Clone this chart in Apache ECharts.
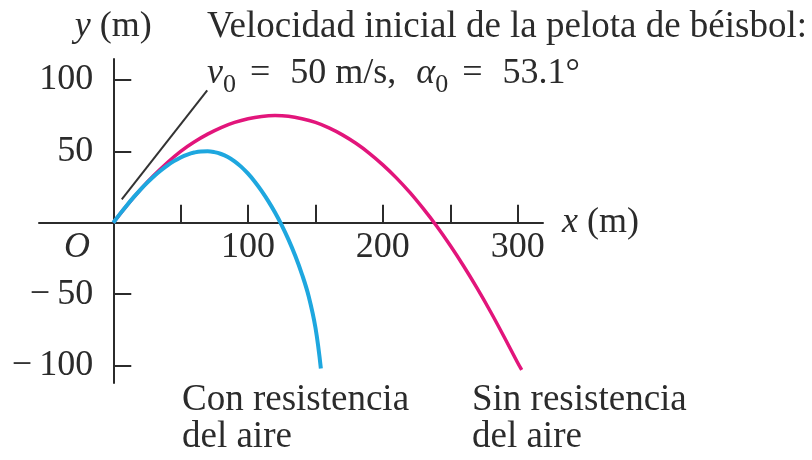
<!DOCTYPE html>
<html>
<head>
<meta charset="utf-8">
<script src="https://cdn.jsdelivr.net/npm/echarts@6/dist/echarts.min.js"></script>
<style>
  html, body { margin: 0; padding: 0; background: #fff; }
  #chart { width: 812px; height: 460px; }
</style>
</head>
<body>
<div id="chart"></div>
<script>
  // trayectoria sin resistencia del aire (m)
  var sinX = [0, 10, 20, 30, 40, 50, 60, 70, 80, 90, 100, 110, 120, 130, 140, 150, 160, 170, 180, 190, 200, 210, 220, 230, 240, 250, 260, 270, 280, 290, 300, 303];
  var sinY = [0, 12, 23, 33, 42, 50, 56.5, 62, 66.6, 70.2, 72.8, 74.4, 75, 74.5, 72.8, 70.2, 66.4, 61.5, 55.6, 48.6, 40.5, 31.4, 21.2, 9.8, -2.5, -16, -30.5, -46, -62.5, -80, -98, -103];
  // trayectoria con resistencia del aire (m)
  var conX = [0, 5, 10, 15, 20, 25, 30, 35, 40, 45, 50, 55, 60, 65, 70, 75, 80, 85, 90, 95, 100, 105, 110, 115, 120, 125, 130, 135, 140, 145, 150, 154];
  var conY = [0, 6.2, 12.1, 17.7, 23, 27.9, 32.4, 36.4, 40, 43.1, 45.7, 47.7, 49.1, 49.9, 50, 49.4, 48.1, 46, 43, 39.1, 34.3, 28.7, 22.3, 15.1, 7.1, -1.8, -11.8, -23.1, -36.1, -51.6, -73.5, -102];
  // linea de la velocidad inicial
  var velX = [6.3, 69.7];
  var velY = [16.4, 92.6];
  // marcas de los ejes
  var xTicks = [50, 100, 150, 200, 250, 300];
  var xLabels = [100, 200, 300];
  var yTicks = [-100, -50, 50, 100];

  var xMin = -55.1, xMax = 318.8;
  var yMin = -112.2, yMax = 114.6;
  var gridW = 504, gridH = 324;

  var serif = 'Liberation Serif';
  var ink = '#2b2b2b';

  function pairs(xs, ys) {
    var out = [];
    for (var i = 0; i < xs.length; i++) out.push([xs[i], ys[i]]);
    return out;
  }

  // los ejes cruzan en el origen
  var xAxisOffset = -gridH * (0 - yMin) / (yMax - yMin);
  var yAxisOffset = -gridW * (0 - xMin) / (xMax - xMin);

  var chart = echarts.init(document.getElementById('chart'), null, {renderer: 'canvas'});
  chart.setOption({
    animation: false,
    backgroundColor: '#fff',
    grid: {left: 39, top: 59, width: gridW, height: gridH, containLabel: false, outerBoundsMode: 'none'},
    xAxis: {
      type: 'value',
      position: 'bottom',
      offset: xAxisOffset,
      min: xMin,
      max: xMax,
      splitLine: {show: false},
      axisLine: {onZero: false, lineStyle: {color: ink, width: 2}},
      axisTick: {show: true, inside: true, length: 18, customValues: xTicks, lineStyle: {color: ink, width: 2}},
      axisLabel: {customValues: xLabels, margin: 7, fontFamily: serif, fontSize: 36, color: ink},
      name: '{i|x} (m)',
      nameLocation: 'end',
      nameGap: 19,
      nameTextStyle: {
        fontFamily: serif, fontSize: 36, color: ink, verticalAlign: 'middle',
        rich: {i: {fontFamily: serif, fontSize: 36, fontStyle: 'italic', color: ink}}
      }
    },
    yAxis: {
      type: 'value',
      position: 'left',
      offset: yAxisOffset,
      min: yMin,
      max: yMax,
      splitLine: {show: false},
      axisLine: {onZero: false, lineStyle: {color: ink, width: 2}},
      axisTick: {show: true, inside: true, length: 18, customValues: yTicks, lineStyle: {color: ink, width: 2}},
      axisLabel: {
        customValues: yTicks, margin: 20, fontFamily: serif, fontSize: 36, color: ink,
        formatter: function (v) { return v < 0 ? '\u2212\u2009' + Math.abs(v) : String(v); }
      },
      name: '{i|y} (m)',
      nameLocation: 'end',
      nameGap: 14,
      nameTextStyle: {
        fontFamily: serif, fontSize: 36, color: ink,
        rich: {i: {fontFamily: serif, fontSize: 36, fontStyle: 'italic', color: ink}}
      }
    },
    series: [
      {
        name: 'Sin resistencia del aire',
        type: 'line',
        data: pairs(sinX, sinY),
        smooth: 0.4,
        symbol: 'none',
        lineStyle: {color: '#e2157b', width: 3.5}
      },
      {
        name: 'Con resistencia del aire',
        type: 'line',
        data: pairs(conX, conY),
        smooth: 0.4,
        symbol: 'none',
        lineStyle: {color: '#1ea7df', width: 4}
      },
      {
        name: 'v0',
        type: 'line',
        data: pairs(velX, velY),
        symbol: 'none',
        lineStyle: {color: '#333', width: 2}
      }
    ],
    graphic: [
      {
        type: 'text', x: 207, y: 27,
        style: {text: 'Velocidad inicial de la pelota de béisbol:', font: '37px "Liberation Serif"', fill: ink, verticalAlign: 'middle'}
      },
      {
        type: 'text', x: 207, y: 56,
        style: {
          text: '{i|v}{s|0}{e|=}{m|50 m/s,}{a|\u03b1}{s|0}{e|=}{m|53.1°}',
          fill: ink,
          verticalAlign: 'top',
          rich: {
            m: {fontFamily: serif, fontSize: 36, lineHeight: 42, verticalAlign: 'top', fill: ink},
            e: {fontFamily: serif, fontSize: 36, lineHeight: 42, verticalAlign: 'top', fill: ink, padding: [0, 20, 0, 14]},
            i: {fontFamily: serif, fontSize: 36, fontStyle: 'italic', lineHeight: 42, verticalAlign: 'top', fill: ink},
            a: {fontFamily: serif, fontSize: 36, fontStyle: 'italic', lineHeight: 42, verticalAlign: 'top', fill: ink, padding: [0, 0, 0, 20]},
            s: {fontFamily: serif, fontSize: 26, lineHeight: 42, verticalAlign: 'bottom', fill: ink}
          }
        }
      },
      {
        type: 'text', x: 77, y: 248,
        style: {text: 'O', font: 'italic 36px "Liberation Serif"', fill: ink, align: 'center', verticalAlign: 'middle'}
      },
      {
        type: 'text', x: 182, y: 382,
        style: {text: 'Con resistencia\ndel aire', font: '37px "Liberation Serif"', lineHeight: 37, fill: ink, verticalAlign: 'top'}
      },
      {
        type: 'text', x: 472, y: 382,
        style: {text: 'Sin resistencia\ndel aire', font: '37px "Liberation Serif"', lineHeight: 37, fill: ink, verticalAlign: 'top'}
      }
    ]
  });
</script>
</body>
</html>
